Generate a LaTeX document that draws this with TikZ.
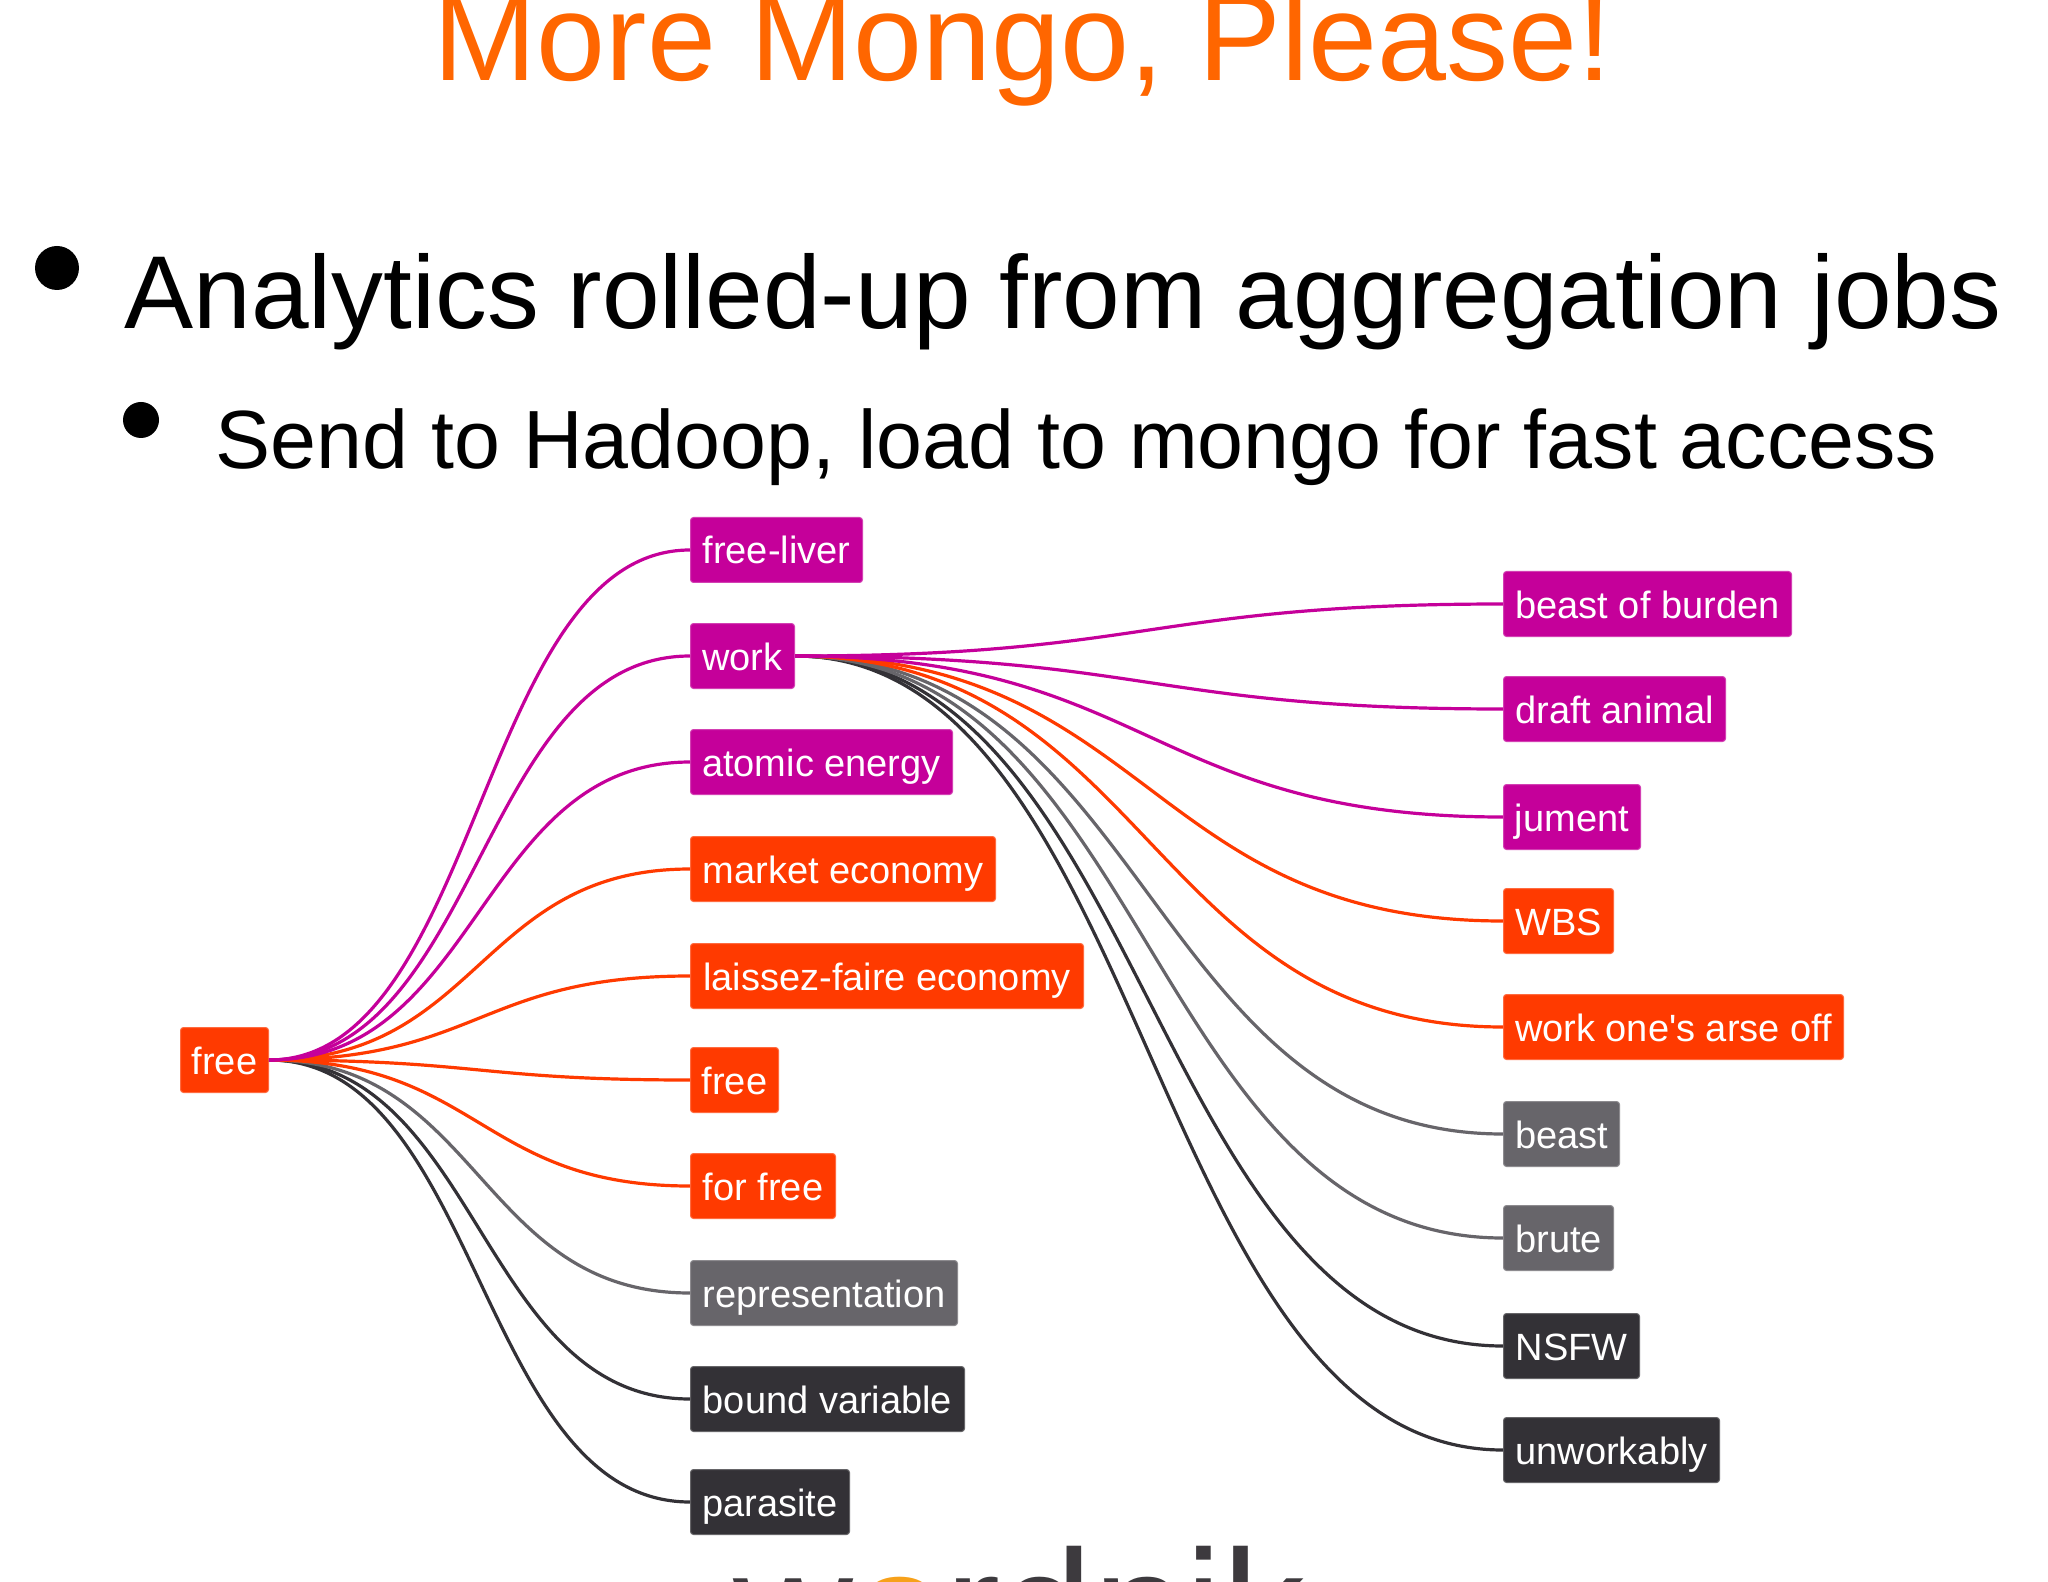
\documentclass[tikz,border=0pt]{standalone}
\usepackage{fontspec}
\setmainfont{Liberation Sans}
\newfontfamily\plainf{Liberation Sans}
\usetikzlibrary{calc}
\definecolor{titleor}{HTML}{FF6600}
\definecolor{mag}{HTML}{C5009A}
\definecolor{redor}{HTML}{FF3A00}
\definecolor{midgray}{HTML}{67656A}
\definecolor{darkgray}{HTML}{333136}
\definecolor{logoor}{HTML}{F7A11A}
\definecolor{logogray}{HTML}{3D3A3E}
\tikzset{
  tag/.style={rectangle,rounded corners=1.5pt,anchor=north west,text=white,font=\plainf\fontsize{19}{19}\selectfont,inner sep=0pt,align=center,minimum height=32.5pt,text height=17pt,text depth=3pt},
  link/.style={line width=1.6pt},
}
\newcommand{\tagnode}[6]{\node[tag,fill=#2,draw=#2!75!white,line width=0.5pt,minimum width=#3*0.5pt] (#1) at (#4*0.5pt,#5*-0.5pt) {#6};}
\newcommand{\lnk}[4]{\draw[link,draw=#3] (#1.east) .. controls +(#4*0.5pt,0pt) and ($(#2.west)+(-#4*0.5pt,0pt)$) .. (#2.west);}
\begin{document}
\begin{tikzpicture}[x=0.5pt,y=-0.5pt]
\useasboundingbox (0,0) rectangle (2048,1582);
\fill[white] (0,0) rectangle (2048,1582);
\node[anchor=base,text=titleor,font=\fontsize{62}{62}\selectfont,inner sep=0pt] (title) at (1023,81) {More Mongo, Please!};
\node[circle,fill=black,inner sep=0pt,minimum size=22pt] (b1) at (57,268) {};
\node[anchor=base west,font=\fontsize{51.8}{52}\selectfont,inner sep=0pt] (t1) at (124,329) {Analytics rolled-up from aggregation jobs};
\node[circle,fill=black,inner sep=0pt,minimum size=18pt] (b2) at (141,420) {};
\node[anchor=base west,font=\fontsize{41.3}{42}\selectfont,inner sep=0pt] (t2) at (215,469) {Send to Hadoop, load to mongo for fast access};
\tagnode{root}{redor}{88}{180}{1027}{free}
\tagnode{a1}{mag}{172}{690}{517}{free-liver}
\tagnode{work}{mag}{104}{690}{623}{work}
\tagnode{a3}{mag}{262}{690}{729}{atomic energy}
\tagnode{a4}{redor}{305}{690}{836}{market economy}
\tagnode{a5}{redor}{393}{690}{943}{laissez-faire economy}
\tagnode{a6}{redor}{88}{690}{1047}{free}
\tagnode{a7}{redor}{145}{690}{1153}{for free}
\tagnode{a8}{midgray}{267}{690}{1260}{representation}
\tagnode{a9}{darkgray}{274}{690}{1366}{bound variable}
\tagnode{a10}{darkgray}{159}{690}{1469}{parasite}
\tagnode{b1n}{mag}{288}{1503}{571}{beast of burden}
\tagnode{b2n}{mag}{222}{1503}{676}{draft animal}
\tagnode{b3n}{mag}{137}{1503}{784}{jument}
\tagnode{b4n}{redor}{110}{1503}{888}{WBS}
\tagnode{b5n}{redor}{340}{1503}{994}{work one's arse off}
\tagnode{b6n}{midgray}{116}{1503}{1101}{beast}
\tagnode{b7n}{midgray}{110}{1503}{1205}{brute}
\tagnode{b8n}{darkgray}{136}{1503}{1313}{NSFW}
\tagnode{b9n}{darkgray}{216}{1503}{1417}{unworkably}
\lnk{root}{a10}{darkgray}{211}
\lnk{root}{a9}{darkgray}{211}
\lnk{root}{a8}{midgray}{211}
\lnk{root}{a7}{redor}{211}
\lnk{root}{a6}{redor}{211}
\lnk{root}{a5}{redor}{211}
\lnk{root}{a4}{redor}{211}
\lnk{root}{a3}{mag}{211}
\lnk{root}{work}{mag}{211}
\lnk{root}{a1}{mag}{211}
\lnk{work}{b9n}{darkgray}{355}
\lnk{work}{b8n}{darkgray}{355}
\lnk{work}{b7n}{midgray}{355}
\lnk{work}{b6n}{midgray}{355}
\lnk{work}{b5n}{redor}{355}
\lnk{work}{b4n}{redor}{355}
\lnk{work}{b3n}{mag}{355}
\lnk{work}{b2n}{mag}{355}
\lnk{work}{b1n}{mag}{355}
\node[anchor=base west,text=logogray,font=\fontsize{83}{83}\selectfont,inner sep=0pt] (logo) at (733,1666) {w\textcolor{logoor}{o}rdnik};
\end{tikzpicture}
\end{document}
